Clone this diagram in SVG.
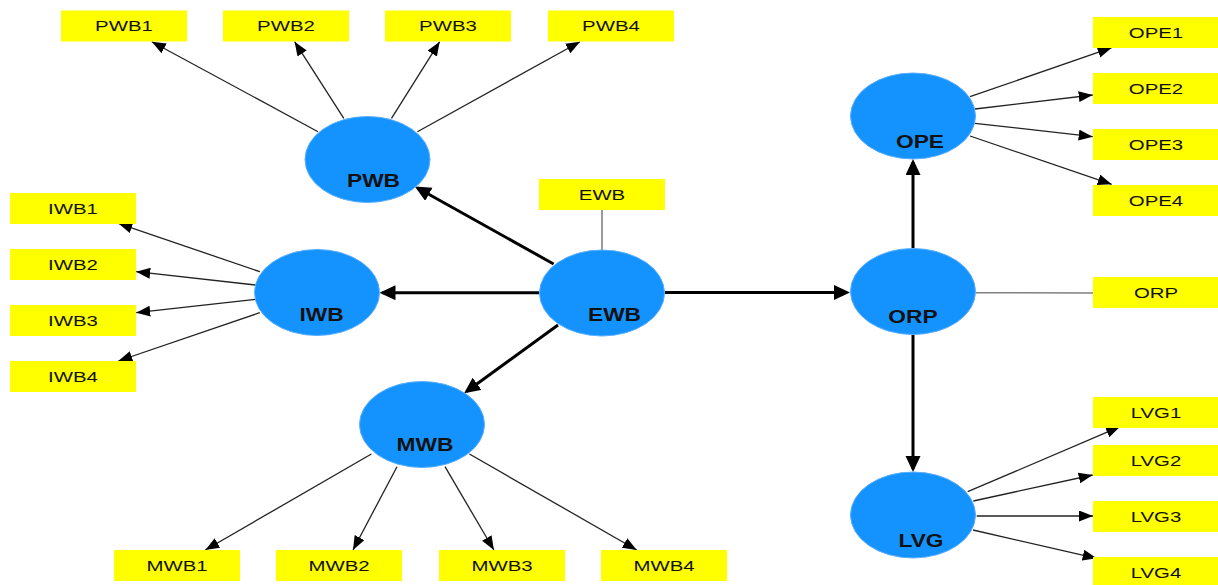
<svg xmlns="http://www.w3.org/2000/svg" width="1218" height="585" viewBox="0 0 1218 585">
  <style>
    .lv ellipse { fill: #1493ff; stroke: #5aaeff; stroke-width: 1; }
    .lv text { font-family: "Liberation Sans", Arial, sans-serif; font-size: 17.5px; font-weight: bold; fill: #111; text-anchor: middle; }
    .ind rect { fill: #ffff00; }
    .ind text { font-family: "Liberation Sans", Arial, sans-serif; font-size: 15px; fill: #111; text-anchor: middle; }
    .thin { stroke: #222; stroke-width: 1.3; fill: none; marker-end: url(#ah); }
    .thick { stroke: #000; stroke-width: 3; fill: none; marker-end: url(#ahb); }
    .plain { stroke: #808080; stroke-width: 1.6; fill: none; }
  </style>
  <defs>
    <marker id="ah" markerUnits="userSpaceOnUse" markerWidth="14" markerHeight="12" refX="14" refY="5.5" orient="auto">
      <path d="M0,0 L14,5.5 L0,11 z" fill="#000"/>
    </marker>
    <marker id="ahb" markerUnits="userSpaceOnUse" markerWidth="16" markerHeight="16" refX="13" refY="7.5" orient="auto">
      <path d="M0,0 L16,7.5 L0,15 z" fill="#000"/>
    </marker>
  </defs>
  <rect width="1218" height="585" fill="#fff"/>

  <!-- connectors -->
  <g id="connectors">
    <line class="thin" x1="318" y1="131.7" x2="151.8" y2="41.7"/>
    <line class="thin" x1="343.8" y1="118.3" x2="294.6" y2="41.7"/>
    <line class="thin" x1="391.5" y1="118.3" x2="439.7" y2="41.7"/>
    <line class="thin" x1="417.4" y1="131.7" x2="580" y2="41.7"/>
    <line class="thin" x1="259.8" y1="271.7" x2="118.3" y2="223.3"/>
    <line class="thin" x1="255.4" y1="285" x2="136.2" y2="271.7"/>
    <line class="thin" x1="255.4" y1="299.3" x2="136.2" y2="312.7"/>
    <line class="thin" x1="259.8" y1="312.7" x2="118.3" y2="361"/>
    <line class="thin" x1="371.4" y1="454" x2="205.3" y2="550"/>
    <line class="thin" x1="397" y1="466.7" x2="353" y2="550"/>
    <line class="thin" x1="445" y1="466.7" x2="493.9" y2="550"/>
    <line class="thin" x1="469.4" y1="454" x2="636.7" y2="550"/>
    <line class="thin" x1="970" y1="96.7" x2="1111.7" y2="47.7"/>
    <line class="thin" x1="975" y1="109" x2="1092.7" y2="95"/>
    <line class="thin" x1="975" y1="123.3" x2="1092.7" y2="136.7"/>
    <line class="thin" x1="970" y1="136" x2="1111.7" y2="184.3"/>
    <line class="thin" x1="967.7" y1="491.7" x2="1120" y2="426.7"/>
    <line class="thin" x1="973.3" y1="501" x2="1092.7" y2="475"/>
    <line class="thin" x1="976.7" y1="516" x2="1093" y2="516"/>
    <line class="thin" x1="973" y1="530" x2="1096.7" y2="558.3"/>

    <line class="thick" x1="553.6" y1="264" x2="417.5" y2="188"/>
    <line class="thick" x1="539" y1="292.7" x2="382.5" y2="292.7"/>
    <line class="thick" x1="558" y1="325" x2="466.5" y2="391.5"/>
    <line class="thick" x1="665" y1="292.5" x2="847" y2="292.5"/>
    <line class="thick" x1="913" y1="248" x2="913" y2="162"/>
    <line class="thick" x1="913" y1="335" x2="913" y2="469"/>

    <line class="plain" x1="602" y1="210" x2="602" y2="250"/>
    <line class="plain" x1="976" y1="292.7" x2="1093" y2="293"/>
  </g>

  <!-- latent variables -->
  <g id="PWB" class="lv">
    <ellipse cx="367.5" cy="159.5" rx="62.5" ry="43"/>
    <text transform="translate(373.5 187) scale(1.3 1)">PWB</text>
  </g>
  <g id="IWB" class="lv">
    <ellipse cx="317" cy="292.5" rx="62.5" ry="43"/>
    <text transform="translate(321.5 320.5) scale(1.3 1)">IWB</text>
  </g>
  <g id="EWB" class="lv">
    <ellipse cx="602" cy="293" rx="62.5" ry="43"/>
    <text transform="translate(614.5 320.5) scale(1.3 1)">EWB</text>
  </g>
  <g id="MWB" class="lv">
    <ellipse cx="422" cy="424.5" rx="62.5" ry="43"/>
    <text transform="translate(425 451) scale(1.3 1)">MWB</text>
  </g>
  <g id="OPE" class="lv">
    <ellipse cx="913" cy="116" rx="62.5" ry="43"/>
    <text transform="translate(920 147.5) scale(1.3 1)">OPE</text>
  </g>
  <g id="ORP" class="lv">
    <ellipse cx="913" cy="291.5" rx="62.5" ry="43"/>
    <text transform="translate(913 322.5) scale(1.3 1)">ORP</text>
  </g>
  <g id="LVG" class="lv">
    <ellipse cx="913" cy="515" rx="62.5" ry="43"/>
    <text transform="translate(921 547) scale(1.3 1)">LVG</text>
  </g>

  <!-- indicators -->
  <g id="PWB1" class="ind"><rect x="61" y="10.5" width="126" height="31"/><text transform="translate(124 31.4) scale(1.36 1)">PWB1</text></g>
  <g id="PWB2" class="ind"><rect x="223" y="10.5" width="126" height="31"/><text transform="translate(286 31.4) scale(1.36 1)">PWB2</text></g>
  <g id="PWB3" class="ind"><rect x="385" y="10.5" width="126" height="31"/><text transform="translate(448 31.4) scale(1.36 1)">PWB3</text></g>
  <g id="PWB4" class="ind"><rect x="548" y="10.5" width="126" height="31"/><text transform="translate(611 31.4) scale(1.36 1)">PWB4</text></g>

  <g id="EWB-ind" class="ind"><rect x="539" y="179" width="126" height="31"/><text transform="translate(602 199.9) scale(1.36 1)">EWB</text></g>

  <g id="IWB1" class="ind"><rect x="10" y="193" width="126" height="31"/><text transform="translate(73 213.9) scale(1.36 1)">IWB1</text></g>
  <g id="IWB2" class="ind"><rect x="10" y="249" width="126" height="31"/><text transform="translate(73 269.9) scale(1.36 1)">IWB2</text></g>
  <g id="IWB3" class="ind"><rect x="10" y="305" width="126" height="31"/><text transform="translate(73 325.9) scale(1.36 1)">IWB3</text></g>
  <g id="IWB4" class="ind"><rect x="10" y="361" width="126" height="31"/><text transform="translate(73 381.9) scale(1.36 1)">IWB4</text></g>

  <g id="MWB1" class="ind"><rect x="114" y="550" width="126" height="31"/><text transform="translate(177 570.9) scale(1.36 1)">MWB1</text></g>
  <g id="MWB2" class="ind"><rect x="276" y="550" width="126" height="31"/><text transform="translate(339 570.9) scale(1.36 1)">MWB2</text></g>
  <g id="MWB3" class="ind"><rect x="439" y="550" width="126" height="31"/><text transform="translate(502 570.9) scale(1.36 1)">MWB3</text></g>
  <g id="MWB4" class="ind"><rect x="601" y="550" width="126" height="31"/><text transform="translate(664 570.9) scale(1.36 1)">MWB4</text></g>

  <g id="OPE1" class="ind"><rect x="1093" y="17" width="126" height="31"/><text transform="translate(1156 37.9) scale(1.36 1)">OPE1</text></g>
  <g id="OPE2" class="ind"><rect x="1093" y="73" width="126" height="31"/><text transform="translate(1156 93.9) scale(1.36 1)">OPE2</text></g>
  <g id="OPE3" class="ind"><rect x="1093" y="129" width="126" height="31"/><text transform="translate(1156 149.9) scale(1.36 1)">OPE3</text></g>
  <g id="OPE4" class="ind"><rect x="1093" y="185" width="126" height="31"/><text transform="translate(1156 205.9) scale(1.36 1)">OPE4</text></g>

  <g id="ORP-ind" class="ind"><rect x="1093" y="277" width="126" height="31"/><text transform="translate(1156 297.9) scale(1.36 1)">ORP</text></g>

  <g id="LVG1" class="ind"><rect x="1093" y="397" width="126" height="31"/><text transform="translate(1156 417.9) scale(1.36 1)">LVG1</text></g>
  <g id="LVG2" class="ind"><rect x="1093" y="445" width="126" height="31"/><text transform="translate(1156 465.9) scale(1.36 1)">LVG2</text></g>
  <g id="LVG3" class="ind"><rect x="1093" y="501" width="126" height="31"/><text transform="translate(1156 521.9) scale(1.36 1)">LVG3</text></g>
  <g id="LVG4" class="ind"><rect x="1093" y="557" width="126" height="31"/><text transform="translate(1156 577.9) scale(1.36 1)">LVG4</text></g>
</svg>
